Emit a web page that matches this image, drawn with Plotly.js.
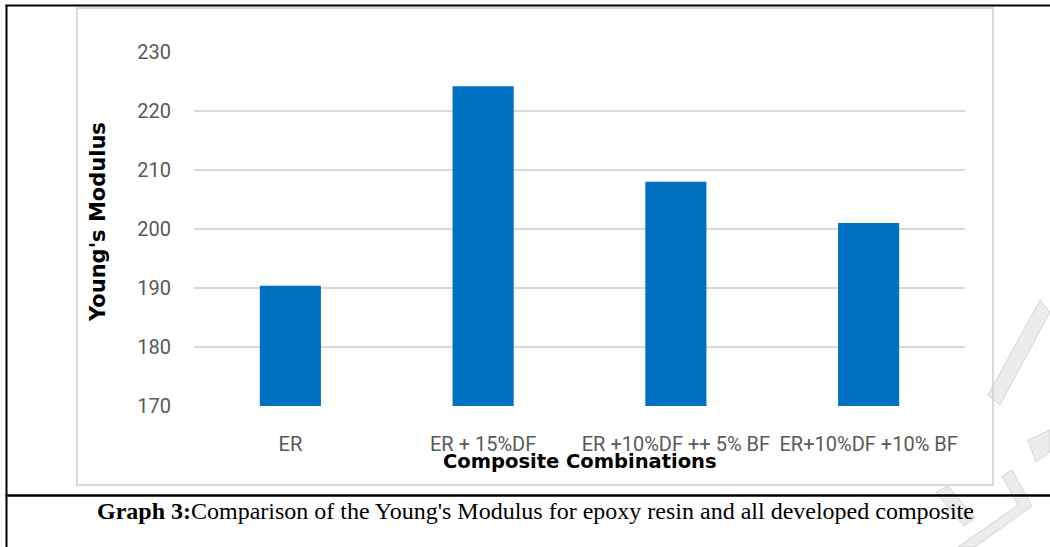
<!DOCTYPE html>
<html>
<head>
<meta charset="utf-8">
<script src="https://cdn.plot.ly/plotly-3.0.1.min.js"></script>
<style>
  html, body { margin: 0; padding: 0; background: #ffffff; }
  #chart { width: 1050px; height: 547px; }
</style>
</head>
<body>
<div id="chart"></div>
<script>
const categories = ["ER", "ER + 15%DF", "ER +10%DF ++ 5% BF", "ER+10%DF +10% BF"];
const youngsModulus = [190.4, 224.2, 208.0, 201.0];
const yTicks = [170, 180, 190, 200, 210, 220, 230];

const W = 1050, H = 547;
const M = { l: 194, r: 85, t: 52, b: 141 };
const PW = W - M.l - M.r, PH = H - M.t - M.b;
const px = v => (v - M.l) / PW;
const py = v => (H - M.b - v) / PH;
const poly = pts => "M" + pts.map(p => px(p[0]) + "," + py(p[1])).join(" L") + " Z";

const trace = {
  type: "bar",
  x: categories,
  y: youngsModulus,
  marker: { color: "#0070C0", line: { width: 0 } },
  hoverinfo: "x+y"
};

const wm = { type: "path", xref: "paper", yref: "paper", layer: "below",
  fillcolor: "rgba(200,200,200,0.35)", line: { color: "rgba(190,190,190,0.6)", width: 1 } };

const shapes = [
  // faint watermark fragments (right side)
  Object.assign({}, wm, { path: poly([[1040,300],[1050,312],[1000,405],[988,395]]) }),
  Object.assign({}, wm, { path: poly([[1002,476],[1012,470],[1032,506],[975,547],[958,547],[1018,505]]) }),
  Object.assign({}, wm, { path: poly([[1028,440],[1050,430],[1050,452],[1036,462]]) }),
  Object.assign({}, wm, { path: poly([[936,492],[948,486],[975,518],[964,526]]) }),
  // gray chart-area border
  { type: "rect", xref: "paper", yref: "paper",
    x0: px(77), x1: px(993), y0: py(485), y1: py(8),
    line: { color: "#d9d9d9", width: 2 }, fillcolor: "rgba(0,0,0,0)", layer: "below" },
  // black outer frame
  { type: "line", xref: "paper", yref: "paper",
    x0: px(6.5), x1: px(6.5), y0: py(5), y1: py(547),
    line: { color: "#000000", width: 2 } },
  { type: "line", xref: "paper", yref: "paper",
    x0: px(5.5), x1: px(1050), y0: py(5.5), y1: py(5.5),
    line: { color: "#000000", width: 2 } },
  { type: "line", xref: "paper", yref: "paper",
    x0: px(5.5), x1: px(1050), y0: py(495.5), y1: py(495.5),
    line: { color: "#000000", width: 2.5 } }
];

const annotations = [
  { text: "<b>Young's Modulus</b>", xref: "paper", yref: "paper",
    x: px(98), y: py(222), textangle: -90, showarrow: false,
    xanchor: "center", yanchor: "middle",
    font: { family: "DejaVu Sans, sans-serif", size: 21, color: "#000000" } },
  { text: "<b>Composite Combinations</b>", xref: "paper", yref: "paper",
    x: px(580), y: py(461), showarrow: false,
    xanchor: "center", yanchor: "middle",
    font: { family: "DejaVu Sans, sans-serif", size: 19.5, color: "#000000" } },
  { text: "<b>Graph 3:</b>Comparison of the Young's Modulus for epoxy resin and all developed composite",
    xref: "paper", yref: "paper",
    x: px(535), y: py(511), showarrow: false,
    xanchor: "center", yanchor: "middle",
    font: { family: "Liberation Serif, 'Times New Roman', serif", size: 24, color: "#000000" } }
];

const layout = {
  width: W, height: H,
  margin: M,
  paper_bgcolor: "#ffffff",
  plot_bgcolor: "#ffffff",
  showlegend: false,
  bargap: 0.683,
  xaxis: {
    type: "category",
    tickangle: 0,
    showgrid: false,
    showline: false,
    zeroline: false,
    ticks: "",
    ticklabelstandoff: 24,
    tickfont: { family: "Roboto, sans-serif", size: 20, color: "#595959" },
    automargin: false
  },
  yaxis: {
    range: [170, 230],
    tickvals: yTicks,
    ticktext: yTicks.map(String),
    showgrid: true,
    gridcolor: "#d9d9d9",
    gridwidth: 1.5,
    zeroline: false,
    showline: false,
    ticks: "",
    ticklabelstandoff: 22,
    tickfont: { family: "Roboto, sans-serif", size: 20, color: "#595959" },
    automargin: false
  },
  shapes: shapes,
  annotations: annotations
};

Plotly.newPlot("chart", [trace], layout, { displayModeBar: false, staticPlot: true });
</script>
</body>
</html>
